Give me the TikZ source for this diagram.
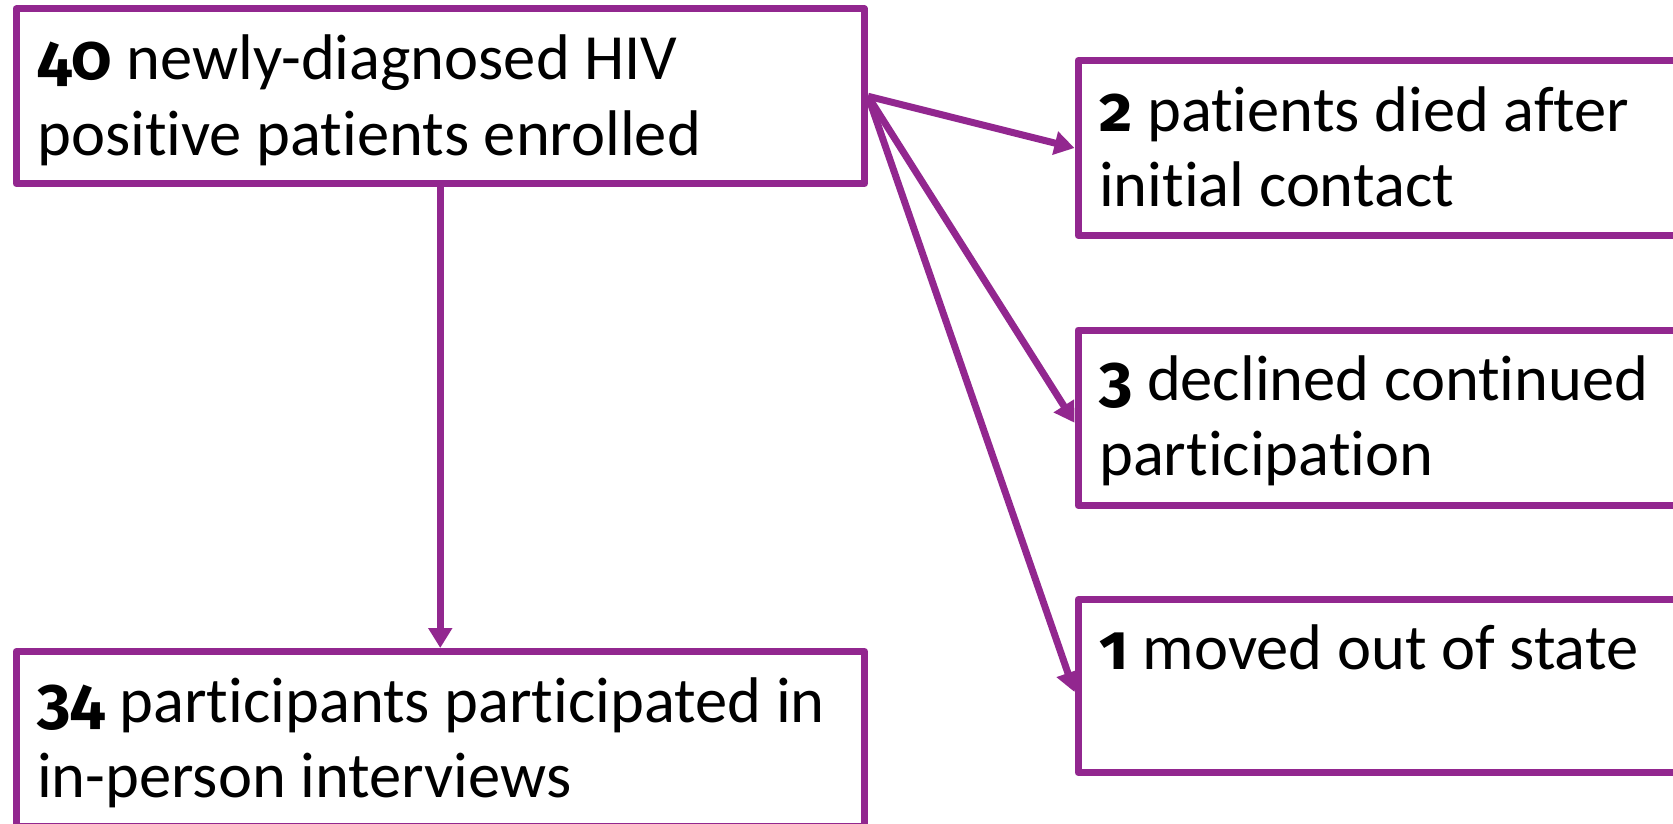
\documentclass[tikz,border=0pt]{standalone}
\usepackage{fontspec}
\setmainfont{Carlito}[Ligatures=NoCommon]
\newfontfamily\numfont{Fira Sans}[Numbers=OldStyle]
\usetikzlibrary{arrows.meta}
\definecolor{boxpurple}{RGB}{146,39,143}
\newcommand{\bnum}[1]{{\numfont\bfseries #1}}
\tikzset{
  flowbox/.style={draw=boxpurple, line width=7pt, line join=round, fill=white, inner sep=0pt},
  boxtext/.style={anchor=base west, align=left, inner sep=0pt, font=\fontsize{64.5pt}{75pt}\selectfont},
  flowarrow/.style={draw=boxpurple, line width=7pt, -{Triangle[length=20pt,width=23pt]}}
}
\begin{document}
\begin{tikzpicture}[x=1pt,y=-1pt]
\useasboundingbox (0,0) rectangle (1673,824);
\clip (0,0) rectangle (1673,824);
\node[flowbox, minimum width=848.5pt, minimum height=174.5pt] (A) at (440.25,96.25) {};
\node[flowbox, minimum width=848.5pt, minimum height=174.5pt] (B) at (440.25,738.75) {};
\node[flowbox, minimum width=622pt, minimum height=175pt] (R1) at (1389,148) {};
\node[flowbox, minimum width=622pt, minimum height=175.5pt] (R2) at (1389,417.75) {};
\node[flowbox, minimum width=622pt, minimum height=173pt] (R3) at (1389,686) {};
\node[boxtext] (tA) at (37,155) {\bnum{40} newly-diagnosed HIV\\positive patients enrolled};
\node[boxtext] (tB) at (37,797) {\bnum{34} participants participated in\\in-person interviews};
\node[boxtext] (t1) at (1099,206) {\bnum{2} patients died after\\initial contact};
\node[boxtext] (t2) at (1099,475) {\bnum{3} declined continued\\participation};
\node[boxtext] (t3) at (1099,669) {\bnum{1} moved out of state};
\draw[flowarrow] (A.south) -- (B.north);
\draw[flowarrow] (A.east) -- (R1.west);
\draw[flowarrow] (A.east) -- ([yshift=-5pt]R2.west);
\draw[flowarrow] (A.east) -- ([yshift=-6pt]R3.west);
\end{tikzpicture}
\end{document}
